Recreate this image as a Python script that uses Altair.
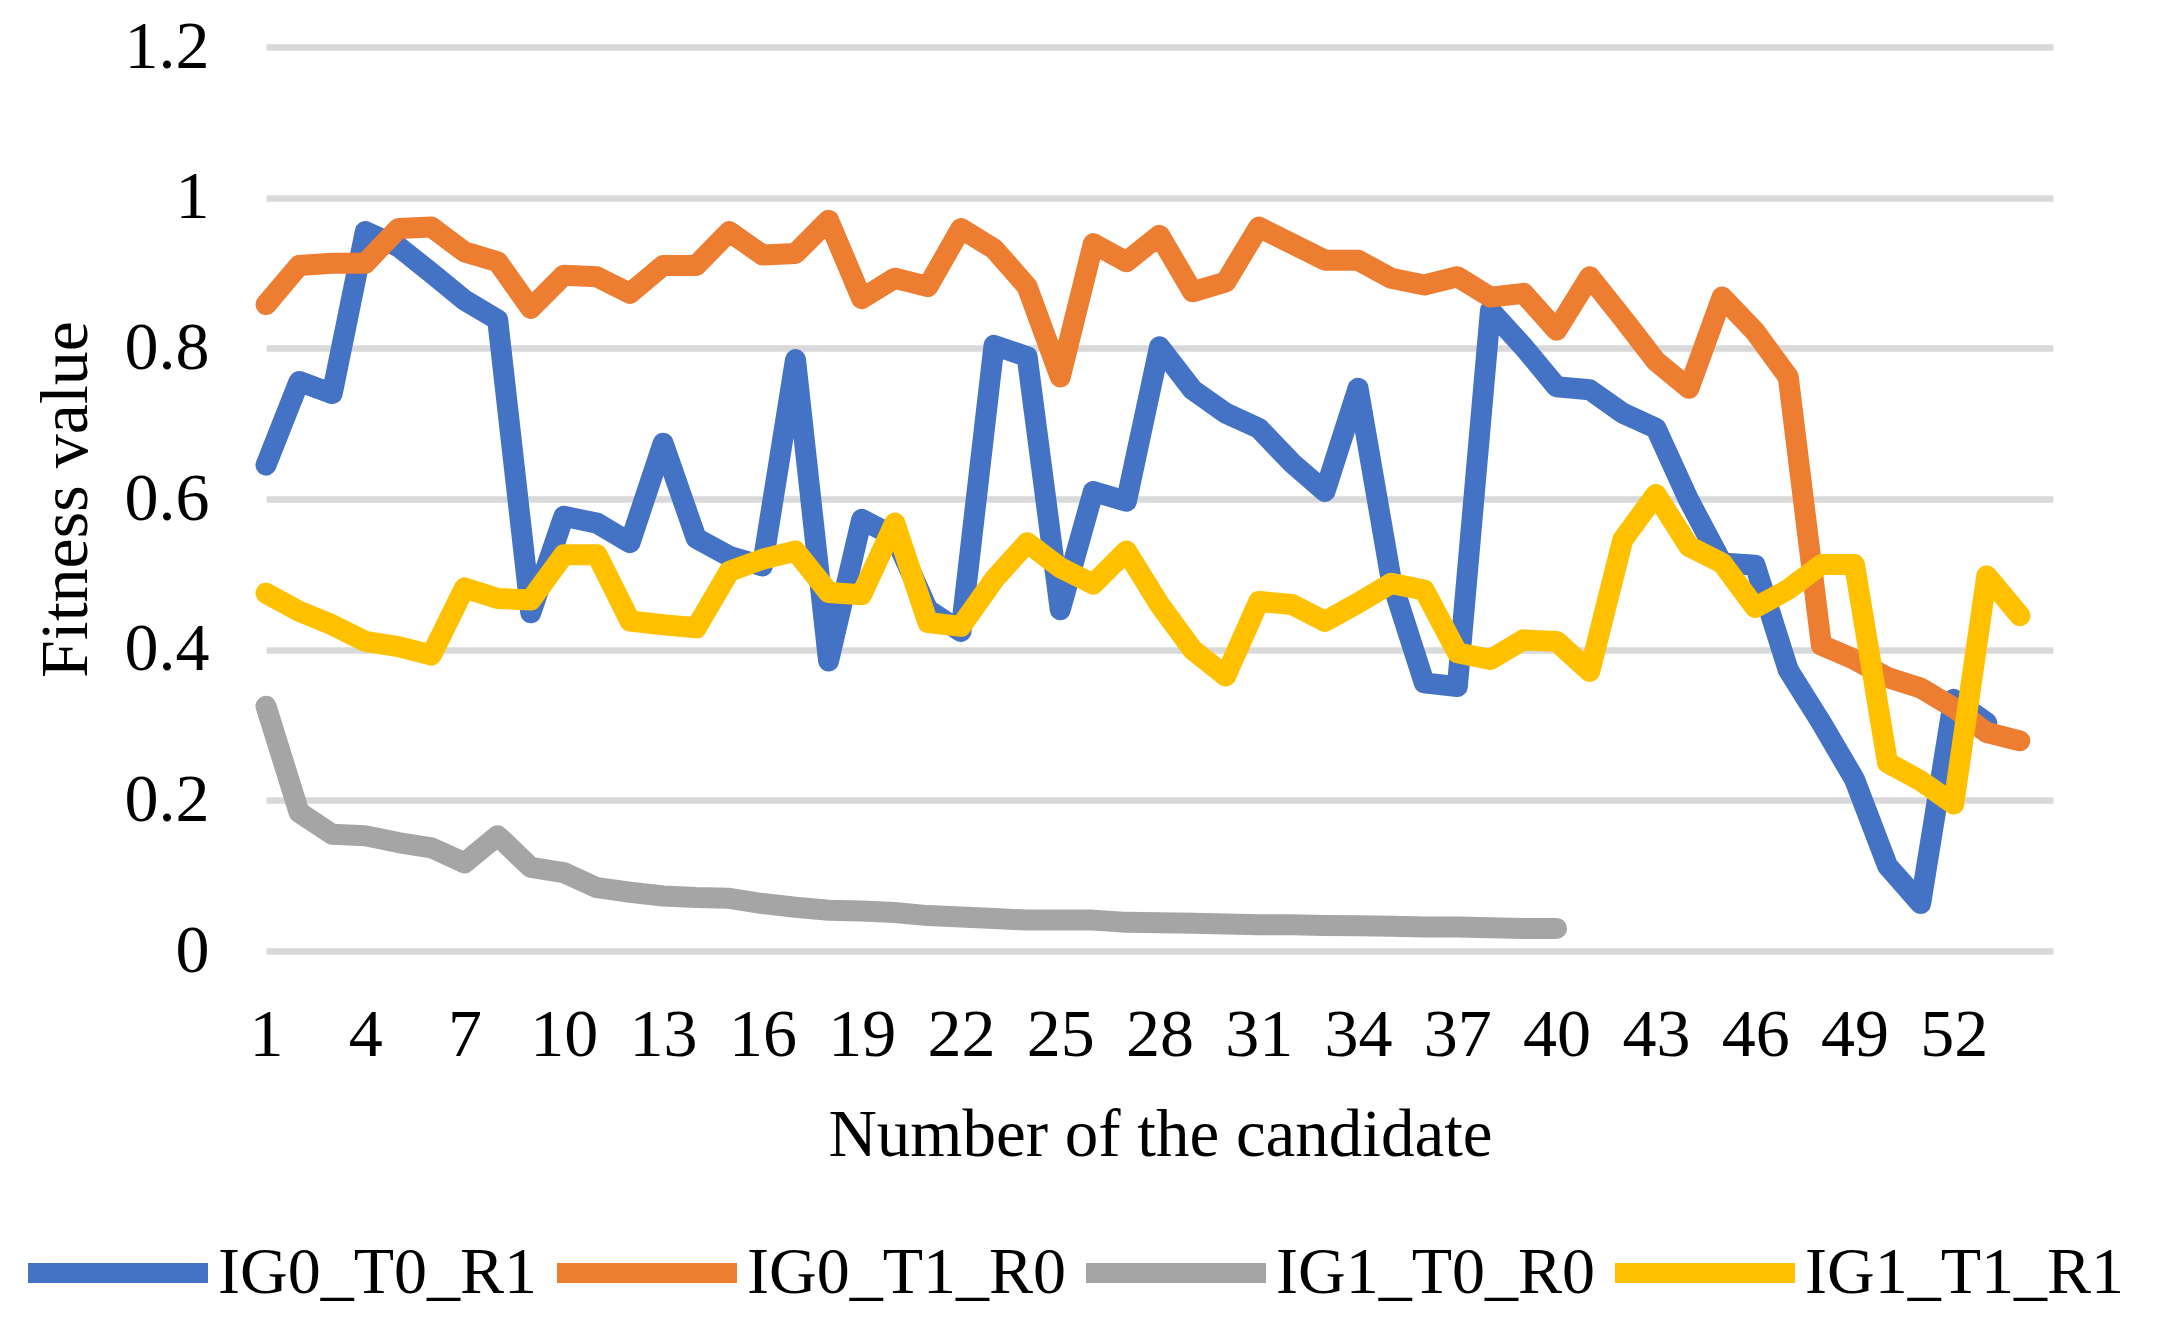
import altair as alt
import pandas as pd

# ---- data ----
candidates = list(range(1, 55))

ig0_t0_r1 = [0.645, 0.756, 0.740, 0.955, 0.935, 0.900, 0.864, 0.838, 0.449, 0.577,
             0.568, 0.542, 0.674, 0.548, 0.524, 0.511, 0.785, 0.385, 0.573, 0.550,
             0.453, 0.424, 0.804, 0.789, 0.453, 0.610, 0.597, 0.802, 0.745, 0.714,
             0.694, 0.648, 0.610, 0.747, 0.493, 0.356, 0.351, 0.850, 0.802, 0.749,
             0.745, 0.714, 0.694, 0.598, 0.515, 0.512, 0.373, 0.303, 0.228, 0.113,
             0.063, 0.334, 0.303]

ig0_t1_r0 = [0.858, 0.910, 0.913, 0.913, 0.959, 0.961, 0.928, 0.915, 0.853, 0.897,
             0.895, 0.873, 0.910, 0.910, 0.955, 0.924, 0.926, 0.970, 0.866, 0.893,
             0.882, 0.959, 0.932, 0.882, 0.762, 0.939, 0.915, 0.950, 0.875, 0.888,
             0.961, 0.939, 0.917, 0.917, 0.893, 0.884, 0.895, 0.868, 0.873, 0.824,
             0.895, 0.840, 0.783, 0.747, 0.868, 0.822, 0.762, 0.406, 0.387, 0.363,
             0.349, 0.323, 0.290, 0.279]

ig1_t0_r0 = [0.325, 0.184, 0.155, 0.153, 0.144, 0.137, 0.117, 0.153, 0.111, 0.104,
             0.084, 0.078, 0.073, 0.071, 0.070, 0.063, 0.058, 0.054, 0.053, 0.051,
             0.047, 0.045, 0.043, 0.041, 0.041, 0.041, 0.038, 0.0375, 0.037, 0.036,
             0.035, 0.035, 0.034, 0.0335, 0.033, 0.032, 0.032, 0.031, 0.030, 0.030]

ig1_t1_r1 = [0.475, 0.451, 0.433, 0.411, 0.404, 0.393, 0.482, 0.468, 0.466, 0.526,
             0.526, 0.438, 0.433, 0.429, 0.504, 0.520, 0.531, 0.476, 0.473, 0.568,
             0.436, 0.431, 0.493, 0.542, 0.509, 0.487, 0.531, 0.460, 0.400, 0.365,
             0.464, 0.460, 0.4375, 0.462, 0.488, 0.479, 0.396, 0.387, 0.413, 0.411,
             0.371, 0.546, 0.606, 0.537, 0.515, 0.456, 0.480, 0.513, 0.513, 0.250,
             0.226, 0.195, 0.498, 0.445]

series_names = ["IG0_T0_R1", "IG0_T1_R0", "IG1_T0_R0", "IG1_T1_R1"]
series_values = [ig0_t0_r1, ig0_t1_r0, ig1_t0_r0, ig1_t1_r1]
series_colors = ["#4472C4", "#ED7D31", "#A5A5A5", "#FFC000"]

x_ticks = list(range(1, 53, 3))
y_ticks = [0, 0.2, 0.4, 0.6, 0.8, 1.0, 1.2]

rows = []
for name, vals in zip(series_names, series_values):
    for c, v in zip(candidates, vals):
        rows.append({"Candidate": c, "Fitness": v, "Series": name})
df = pd.DataFrame(rows)

FONT = "Liberation Serif"

chart = alt.Chart(df).mark_line(
    strokeWidth=21, strokeCap="round", strokeJoin="round"
).encode(
    x=alt.X(
        "Candidate:Q",
        scale=alt.Scale(domain=[1, 55], nice=False, zero=False),
        axis=alt.Axis(
            values=x_ticks, title="Number of the candidate", grid=False,
            domain=False, ticks=False, tickSize=0, labelPadding=50,
            labelFont=FONT, labelFontSize=68, labelColor="black",
            labelFlush=False, labelOverlap=False,
            titleFont=FONT, titleFontSize=67, titleFontWeight="normal",
            titleColor="black", titleBaseline="alphabetic",
            titleY=204, titleX=894,
        ),
    ),
    y=alt.Y(
        "Fitness:Q",
        scale=alt.Scale(domain=[0, 1.2], nice=False, zero=True),
        axis=alt.Axis(
            values=y_ticks, format="~g", title="Fitness value", grid=True,
            gridColor="#D9D9D9", gridWidth=6.5, domain=False, ticks=False,
            tickSize=0, labelPadding=57, labelFont=FONT, labelFontSize=68,
            labelColor="black", labelOverlap=False,
            titleFont=FONT, titleFontSize=68, titleFontWeight="normal",
            titleColor="black", titleAngle=270, titleAlign="center",
            titleBaseline="alphabetic", titleX=-180, titleY=452,
        ),
    ),
    color=alt.Color(
        "Series:N",
        scale=alt.Scale(domain=series_names, range=series_colors),
        legend=alt.Legend(
            title=None, orient="none", legendX=-248, legendY=1126,
            direction="horizontal", columns=4, symbolType="stroke",
            symbolSize=32400, symbolStrokeWidth=20, labelFont=FONT,
            labelFontSize=66, labelColor="black", labelOffset=0,
            columnPadding=-20, padding=0, labelLimit=600,
        ),
    ),
).properties(
    width=1787, height=904,
    autosize=alt.AutoSizeParams(type="none"),
    padding={"left": 258, "top": 39, "right": 90, "bottom": 370},
    background="white",
).configure_view(stroke=None)

chart.save("out.html", embed_options={"renderer": "svg", "actions": False})
